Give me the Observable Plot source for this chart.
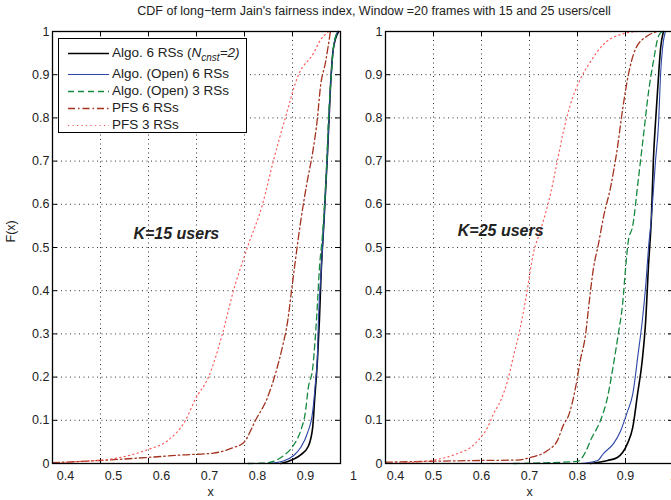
<!DOCTYPE html>
<html><head><meta charset="utf-8">
<script src="https://cdn.jsdelivr.net/npm/d3@7"></script>
<script src="https://cdn.jsdelivr.net/npm/@observablehq/plot@0.6"></script>
<style>
body{margin:0;background:#fff;}
#wrap{position:relative;width:671px;height:500px;overflow:hidden;background:#fff;font-family:"Liberation Sans",Arial,sans-serif;color:#222;}
#title{position:absolute;top:4px;left:0;width:748px;text-align:center;font-size:12.5px;white-space:nowrap;}
.panel{position:absolute;top:20px;}
#legend{position:absolute;left:58px;top:38px;width:189px;height:95px;border:1px solid #000;background:#fff;box-sizing:border-box;font-size:13.5px;}
#legend .row{position:absolute;left:0;height:18px;line-height:18px;white-space:nowrap;}
#legend svg{position:absolute;left:9px;top:8px;}
#legend span.t{position:absolute;left:53px;top:0;}
#legend sub{font-size:10px;font-style:italic;vertical-align:-4px;}
</style></head><body>
<div id="wrap">
  <div id="title"></div>
</div>
<script>
// ---- text ----
const titleText = "CDF of long\u2212term Jain's fairness index, Window =20 frames with 15 and 25 users/cell";
const seriesNames = ["Algo. 6 RSs", "Algo. (Open) 6 RSs", "Algo. (Open) 3 RSs", "PFS 6 RSs", "PFS 3 RSs"];
const panelLabels = ["K=15 users", "K=25 users"];
const panelLabelPos = [[0.658, 0.532], [0.64, 0.539]];
// ---- ticks ----
const xTicks = [0.4, 0.5, 0.6, 0.7, 0.8, 0.9, 1];
const yTicks = [0, 0.1, 0.2, 0.3, 0.4, 0.5, 0.6, 0.7, 0.8, 0.9, 1];
const xGrid = [0.5, 0.6, 0.7, 0.8, 0.9];
const yGrid = [0.1, 0.2, 0.3, 0.4, 0.5, 0.6, 0.7, 0.8, 0.9];

// ---- data: [x, F(x)] ----  K = 15 users
const k15_algo6 = [[0.875,0],[0.902,0.01],[0.917,0.02],[0.933,0.04],[0.942,0.083],[0.946,0.146],[0.952,0.24],[0.956,0.33],[0.960,0.45],[0.965,0.55],[0.973,0.72],[0.979,0.87],[0.985,0.96],[0.996,1]];
const k15_open6 = [[0.848,0],[0.881,0.006],[0.902,0.018],[0.917,0.037],[0.931,0.07],[0.942,0.12],[0.948,0.19],[0.952,0.25],[0.954,0.33],[0.960,0.45],[0.965,0.55],[0.973,0.72],[0.979,0.87],[0.985,0.96],[0.994,1]];
const k15_open3 = [[0.808,0],[0.848,0.002],[0.881,0.018],[0.902,0.042],[0.917,0.076],[0.927,0.12],[0.933,0.176],[0.942,0.22],[0.948,0.3],[0.952,0.37],[0.956,0.45],[0.9625,0.53],[0.971,0.69],[0.975,0.8],[0.981,0.9],[0.985,0.96],[0.994,1]];
const k15_pfs6 = [[0.4,0.002],[0.5,0.007],[0.598,0.014],[0.673,0.02],[0.735,0.024],[0.777,0.037],[0.798,0.048],[0.823,0.1],[0.848,0.153],[0.865,0.21],[0.879,0.27],[0.890,0.33],[0.898,0.4],[0.906,0.47],[0.917,0.56],[0.931,0.655],[0.942,0.72],[0.952,0.8],[0.958,0.87],[0.969,0.93],[0.979,1]];
const k15_pfs3 = [[0.4,0],[0.458,0.005],[0.52,0.01],[0.598,0.032],[0.640,0.053],[0.677,0.1],[0.698,0.15],[0.725,0.2],[0.754,0.3],[0.777,0.4],[0.806,0.5],[0.8375,0.6],[0.860,0.7],[0.885,0.8],[0.9125,0.9],[0.944,0.95],[0.958,0.98],[0.975,1]];
// K = 25 users
const k25_algo6 = [[0.827,0],[0.8625,0.007],[0.883,0.014],[0.904,0.046],[0.915,0.083],[0.925,0.16],[0.935,0.24],[0.942,0.33],[0.948,0.46],[0.954,0.57],[0.958,0.70],[0.9625,0.79],[0.969,0.9],[0.973,0.96],[0.979,1]];
const k25_open6 = [[0.806,0],[0.842,0.007],[0.854,0.023],[0.875,0.046],[0.890,0.076],[0.904,0.12],[0.915,0.16],[0.927,0.26],[0.935,0.33],[0.942,0.41],[0.948,0.5],[0.954,0.57],[0.9625,0.70],[0.969,0.79],[0.973,0.9],[0.977,0.96],[0.983,1]];
const k25_open3 = [[0.667,0],[0.8,0.005],[0.821,0.037],[0.827,0.053],[0.848,0.1],[0.8625,0.153],[0.875,0.23],[0.885,0.3],[0.894,0.37],[0.9,0.45],[0.906,0.516],[0.915,0.55],[0.927,0.66],[0.9375,0.76],[0.948,0.86],[0.958,0.93],[0.969,0.99],[0.977,1]];
const k25_pfs6 = [[0.4,0.003],[0.598,0.007],[0.675,0.008],[0.702,0.014],[0.7375,0.03],[0.758,0.053],[0.771,0.09],[0.781,0.11],[0.796,0.176],[0.806,0.24],[0.817,0.3],[0.823,0.36],[0.833,0.45],[0.844,0.51],[0.854,0.57],[0.869,0.64],[0.883,0.73],[0.894,0.82],[0.906,0.9],[0.921,0.96],[0.946,0.99],[0.967,1]];
const k25_pfs3 = [[0.4,0],[0.494,0.007],[0.55,0.023],[0.577,0.037],[0.598,0.06],[0.6125,0.083],[0.625,0.115],[0.640,0.146],[0.654,0.19],[0.667,0.25],[0.681,0.315],[0.692,0.38],[0.708,0.486],[0.723,0.54],[0.744,0.625],[0.758,0.70],[0.771,0.77],[0.785,0.83],[0.806,0.89],[0.827,0.93],[0.854,0.97],[0.896,0.995],[0.925,1]];

// ---- styles ----
const styles = [
  {stroke: "#000000", strokeWidth: 1.6, dash: null},
  {stroke: "#2b46a6", strokeWidth: 1.1, dash: null},
  {stroke: "#15893f", strokeWidth: 1.3, dash: "6,4"},
  {stroke: "#a3321e", strokeWidth: 1.3, dash: "7,3,1.5,3"},
  {stroke: "#ff5a5a", strokeWidth: 1.2, dash: "1.2,3.3"}
];

const W = 288, H = 432;
const fmt = d => d === 0 ? "0" : d === 1 ? "1" : d.toFixed(1);

function panel(seriesList, label, labelPos, isLeft) {
  const marks = [
    Plot.ruleX(xGrid, {x: d => d, stroke: "#333", strokeDasharray: "1,3.5", strokeWidth: 1}),
    Plot.ruleY(yGrid, {y: d => d, stroke: "#333", strokeDasharray: "1,3.5", strokeWidth: 1}),
    Plot.tickX(xGrid, {x: d => d, insetTop: H - 5, stroke: "#000"}),
    Plot.tickX(xGrid, {x: d => d, insetBottom: H - 5, stroke: "#000"}),
    Plot.tickY(yGrid, {y: d => d, insetRight: W - 5, stroke: "#000"}),
    Plot.tickY(yGrid, {y: d => d, insetLeft: W - 5, stroke: "#000"})
  ];
  seriesList.forEach((s, i) => {
    const st = styles[i];
    marks.push(Plot.line(s, {x: d => d[0], y: d => d[1], stroke: st.stroke, strokeWidth: st.strokeWidth,
      strokeDasharray: st.dash, curve: "monotone-x"}));
  });
  marks.push(Plot.frame({stroke: "#000", strokeWidth: 1.3}));
  if (isLeft) {
    marks.push(Plot.axisX({ticks: xTicks, tickSize: 0, tickPadding: 8, tickFormat: fmt, label: null, dx: 13, fill: "#222"}));
  } else {
    marks.push(Plot.axisX({ticks: [0.4], tickSize: 0, tickPadding: 8, tickFormat: fmt, label: null, dx: 10, fill: "#222"}));
    marks.push(Plot.axisX({ticks: xTicks.slice(1), tickSize: 0, tickPadding: 8, tickFormat: fmt, label: null, fill: "#222"}));
  }
  marks.push(Plot.axisY({ticks: yTicks, tickSize: 0, tickPadding: 3, tickFormat: fmt, label: null, fill: "#222"}));
  marks.push(Plot.text(["x"], {frameAnchor: "bottom", text: d => d, dy: 32, dx: isLeft ? 14 : 0, fill: "#222", fontSize: 12.5}));
  if (isLeft) marks.push(Plot.text(["F(x)"], {frameAnchor: "left", text: d => d, dx: -42, dy: -5, rotate: -90, fill: "#222", fontSize: 12.5}));
  marks.push(Plot.text([label], {x: () => labelPos[0], y: () => labelPos[1], text: d => d, fontWeight: "bold", fontStyle: "italic", fontSize: 16, fill: "#222"}));
  return Plot.plot({
    width: isLeft ? 360 : 340, height: 480,
    marginLeft: 52, marginRight: isLeft ? 20 : 0, marginTop: 11, marginBottom: 37,
    x: {domain: [0.4, 1]}, y: {domain: [0, 1]},
    style: {background: "transparent", fontFamily: "'Liberation Sans', Arial, sans-serif", fontSize: "12.5px", overflow: "visible"},
    marks
  });
}

const wrap = document.getElementById("wrap");
document.getElementById("title").textContent = titleText;
const p1 = panel([k15_algo6, k15_open6, k15_open3, k15_pfs6, k15_pfs3], panelLabels[0], panelLabelPos[0], true);
p1.classList.add("panel"); p1.style.left = "0px"; p1.style.maxWidth = "none";
const p2 = panel([k25_algo6, k25_open6, k25_open3, k25_pfs6, k25_pfs3], panelLabels[1], panelLabelPos[1], false);
p2.classList.add("panel"); p2.style.left = "333px"; p2.style.maxWidth = "none";
wrap.appendChild(p1); wrap.appendChild(p2);

// legend (HTML overlay inside left panel)
const legend = document.createElement("div");
legend.id = "legend";
const rowTops = [5, 26, 43, 60, 77];
seriesNames.forEach((name, i) => {
  const st = styles[i];
  const row = document.createElement("div");
  row.className = "row";
  row.style.top = rowTops[i] + "px";
  row.innerHTML = `<svg width="42" height="3"><line x1="0" x2="41" y1="1.5" y2="1.5" stroke="${st.stroke}" stroke-width="${st.strokeWidth}" ${st.dash ? `stroke-dasharray="${st.dash}"` : ""}/></svg>` +
    `<span class="t">${name}${i === 0 ? ' (<i>N</i><sub>cnst</sub><i>=2)</i>' : ''}</span>`;
  legend.appendChild(row);
});
wrap.appendChild(legend);
</script>
</body></html>
